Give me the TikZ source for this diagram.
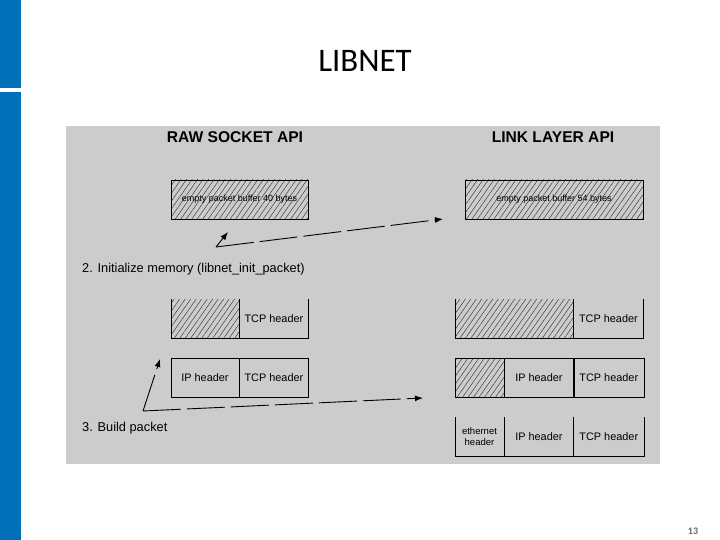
\documentclass[tikz,border=0pt]{standalone}
\usepackage{fontspec}
\setmainfont{Liberation Sans}
\newfontfamily\slidefont{Carlito}
\usetikzlibrary{positioning,patterns.meta,arrows.meta}
\definecolor{slideblue}{RGB}{0,112,184}
\definecolor{panelgray}{RGB}{204,204,204}

\begin{document}
\begin{tikzpicture}[x=1pt,y=-1pt,
   cell/.style={minimum height=39,inner sep=0,align=center,font=\fontsize{10.9}{11}\selectfont},
   hatched/.style={pattern={Lines[angle=55,distance=4.5pt,line width=0.45pt]},pattern color=black!80},
   heading/.style={font=\fontsize{15.6}{17}\selectfont\bfseries},
   steplabel/.style={anchor=west,inner sep=0,font=\fontsize{12.8}{14}\selectfont},
   dasharrow/.style={line width=0.9pt,dash pattern=on 38pt off 6pt,-{Latex[length=8pt,width=6pt]}}]
   \useasboundingbox (0,0) rectangle (720,540);
   % slide frame
   \fill[slideblue] (0,0) rectangle (21,88);
   \fill[slideblue] (0,92) rectangle (21,540);
   \node (title) at (365,61) {\slidefont\fontsize{32.9}{38}\selectfont LIBNET};
   \node (pagenum) at (693,531) {\slidefont\bfseries\fontsize{10}{11}\selectfont\color{black!60}13};
   \fill[panelgray] (66,126) rectangle (660,464);
   % column headings
   \node[heading] (rawapi) at (235,137) {RAW SOCKET API};
   \node[heading] (linkapi) at (553,137) {LINK LAYER API};
   % empty buffers
   \node[cell,draw,hatched,minimum width=137,font=\fontsize{9}{10}\selectfont] (rawbuf) at (239.5,199.5) {empty packet buffer 40 bytes};
   \node[cell,draw,hatched,minimum width=178,font=\fontsize{9}{10}\selectfont] (linkbuf) at (554,199.5) {empty packet buffer 54 bytes};
   % raw socket rows
   \node[cell,hatched,minimum width=68] (rawa) at (205,318.5) {};
   \node[cell,minimum width=69,right=0pt of rawa] (rawb) {TCP header};
   \draw (rawa.north west) -- (rawa.south west) -- (rawb.south east) -- (rawb.north east);
   \draw (rawa.north east) -- (rawa.south east);
   \node[cell,draw,minimum width=68] (rawc) at (205,377.5) {IP header};
   \node[cell,draw,minimum width=69,right=0pt of rawc] (rawd) {TCP header};
   % link layer rows
   \node[cell,hatched,minimum width=118] (linka) at (514,318.5) {};
   \node[cell,minimum width=70,right=0pt of linka] (linkb) {TCP header};
   \draw (linka.north west) -- (linka.south west) -- (linkb.south east) -- (linkb.north east);
   \draw (linka.north east) -- (linka.south east);
   \node[cell,draw,hatched,minimum width=49] (linkc) at (479.5,377.5) {};
   \node[cell,draw,minimum width=69,right=0pt of linkc] (linkd) {IP header};
   \node[cell,draw,minimum width=70,right=0pt of linkd] (linke) {TCP header};
   \node[cell,minimum width=49,font=\fontsize{9.5}{11}\selectfont] (linkf) at (479.5,436.5) {ethernet\\header};
   \node[cell,minimum width=69,right=0pt of linkf] (linkg) {IP header};
   \node[cell,minimum width=70,right=0pt of linkg] (linkh) {TCP header};
   \draw (linkf.north west) -- (linkf.south west) -- (linkh.south east) -- (linkh.north east);
   \draw (linkf.north east) -- (linkf.south east);
   \draw (linkg.north east) -- (linkg.south east);
   % step labels
   \node[steplabel] (stepinit) at (82,269) {2. Initialize memory (libnet\_init\_packet)};
   \node[steplabel] (stepbuild) at (82,428) {3. Build packet};
   % arrows from the steps
   \coordinate (initfork) at (216,247);
   \coordinate (initraw) at (228,232);
   \coordinate (initlink) at (443,219);
   \draw[dasharrow] (initfork) -- (initraw);
   \draw[dasharrow] (initfork) -- (initlink);
   \coordinate (buildfork) at (143,411);
   \coordinate (buildraw) at (160,359);
   \coordinate (buildlink) at (423,398);
   \draw[dasharrow] (buildfork) -- (buildraw);
   \draw[dasharrow] (buildfork) -- (buildlink);
\end{tikzpicture}
\end{document}
